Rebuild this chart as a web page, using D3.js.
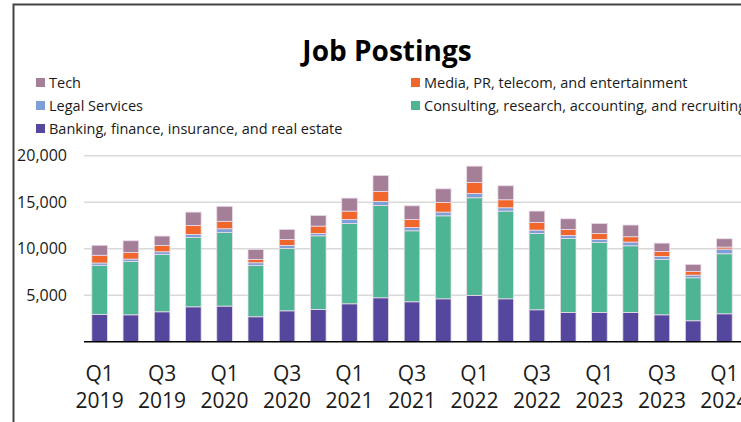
<!DOCTYPE html>
<html>
<head>
<meta charset="utf-8">
<script src="https://cdn.jsdelivr.net/npm/d3@7"></script>
<style>
    body { margin: 0; background: #fff; }
    text { font-family: "Open Sans", sans-serif; fill: #1a1a1a; }
</style>
</head>
<body>
<script>
(function() {

    // quarters, labelled every other one
    var quarters = ["Q1 2019", "Q2 2019", "Q3 2019", "Q4 2019", "Q1 2020", "Q2 2020", "Q3 2020", "Q4 2020",
        "Q1 2021", "Q2 2021", "Q3 2021", "Q4 2021", "Q1 2022", "Q2 2022", "Q3 2022", "Q4 2022",
        "Q1 2023", "Q2 2023", "Q3 2023", "Q4 2023", "Q1 2024"];

    var banking    = [2950, 2900, 3225, 3760, 3840, 2690, 3330, 3480, 4085, 4730, 4300, 4620, 4990, 4620, 3440, 3160, 3160, 3160, 2900, 2260, 3010];
    var consulting = [5270, 5740, 6170, 7460, 7920, 5525, 6710, 7910, 8640, 9930, 7630, 8920, 10490, 9430, 8210, 7955, 7525, 7160, 5955, 4620, 6450];
    var legal      = [250, 250, 280, 320, 390, 280, 320, 260, 430, 430, 365, 400, 470, 355, 355, 320, 320, 400, 320, 290, 505];
    var media      = [830, 720, 690, 970, 800, 365, 645, 785, 890, 1075, 860, 1040, 1180, 860, 830, 645, 645, 570, 540, 400, 215];
    var tech       = [1075, 1250, 1000, 1430, 1610, 1075, 1075, 1150, 1400, 1720, 1460, 1460, 1750, 1505, 1215, 1140, 1075, 1260, 890, 750, 895];

    var yTicks = [5000, 10000, 15000, 20000];

    // stacking order bottom -> top
    var seriesKeys = ["banking", "consulting", "legal", "media", "tech"];
    var seriesNames = {
        banking: "Banking, finance, insurance, and real estate",
        consulting: "Consulting, research, accounting, and recruiting",
        legal: "Legal Services",
        media: "Media, PR, telecom, and entertainment",
        tech: "Tech"
    };
    var seriesColors = {
        banking: "#56479e",
        consulting: "#4db593",
        legal: "#7d9ed6",
        media: "#f0662b",
        tech: "#a57e98"
    };
    // legend reads row by row, two columns
    var legendOrder = ["tech", "media", "legal", "consulting", "banking"];

    var width = 741,
        height = 422;

    var svg = d3.select("body")
        .append("svg")
        .attr("width", width)
        .attr("height", height);

    // outer frame, runs off the right and bottom edge
    svg.append("rect")
        .attr("x", 13.5)
        .attr("y", 4.5)
        .attr("width", 780)
        .attr("height", 440)
        .attr("fill", "#fff")
        .attr("stroke", "#444")
        .attr("stroke-width", 2);

    svg.append("text")
        .attr("x", 387)
        .attr("y", 61)
        .attr("text-anchor", "middle")
        .style("font-size", "28px")
        .style("font-weight", "bold")
        .style("fill", "#000")
        .text("Job Postings");

    var table = quarters.map(function(q, i) {
        return {quarter: q, banking: banking[i], consulting: consulting[i], legal: legal[i], media: media[i], tech: tech[i]};
    });

    var stack = d3.stack().keys(seriesKeys);
    var layers = stack(table);

    var x = d3.scaleBand()
        .domain(quarters)
        .range([84, 740])
        .paddingInner(0.5)
        .paddingOuter(0.25);

    var y = d3.scaleLinear()
        .domain([0, 20000])
        .range([341.8, 155.7]);

    setLegend();
    setAxes();
    setBars();

    function setLegend() {
        var cols = [35, 410];
        var items = svg.selectAll(".legendItem")
            .data(legendOrder)
            .enter()
            .append("g")
            .attr("class", "legendItem")
            .attr("transform", function(d, i) {
                return "translate(" + cols[i % 2] + "," + (83 + Math.floor(i / 2) * 23) + ")";
            });

        items.append("rect")
            .attr("x", 1)
            .attr("y", -5)
            .attr("width", 9)
            .attr("height", 9)
            .attr("fill", function(d) { return seriesColors[d]; });

        items.append("text")
            .attr("x", 14)
            .attr("dy", "0.35em")
            .style("font-size", "14.5px")
            .text(function(d) { return seriesNames[d]; });
    }

    function setAxes() {
        svg.selectAll(".grid")
            .data(yTicks)
            .enter()
            .append("line")
            .attr("class", "grid")
            .attr("x1", 84)
            .attr("x2", width)
            .attr("y1", function(d) { return y(d); })
            .attr("y2", function(d) { return y(d); })
            .attr("stroke", "#d9d9d9")
            .attr("stroke-width", 1.5);

        var yAxis = svg.append("g")
            .attr("transform", "translate(84,0)")
            .call(d3.axisLeft(y).tickValues(yTicks).tickSize(0).tickPadding(17).tickFormat(d3.format(",")));
        yAxis.select(".domain").remove();
        yAxis.selectAll("text")
            .style("font-size", "16px")
            .style("font-family", "'Open Sans', sans-serif")
            .attr("fill", "#1a1a1a");

        var xAxis = svg.append("g")
            .attr("transform", "translate(0," + y(0) + ")")
            .call(d3.axisBottom(x).tickSize(0).tickFormat(""));
        xAxis.select(".domain").remove();

        xAxis.selectAll(".tick")
            .filter(function(d, i) { return i % 2 == 0; })
            .each(function(d) {
                var parts = d.split(" ");
                var t = d3.select(this).append("text")
                    .attr("text-anchor", "middle")
                    .style("font-size", "21px")
                    .style("font-family", "'Open Sans', sans-serif")
                    .attr("fill", "#1a1a1a");
                t.append("tspan").attr("x", 0).attr("y", 39).text(parts[0]);
                t.append("tspan").attr("x", 0).attr("y", 66).text(parts[1]);
            });
    }

    function setBars() {
        svg.selectAll(".layer")
            .data(layers)
            .enter()
            .append("g")
            .attr("class", "layer")
            .attr("fill", function(d) { return seriesColors[d.key]; })
            .selectAll("rect")
            .data(function(d) { return d; })
            .enter()
            .append("rect")
            .attr("x", function(d) { return x(d.data.quarter); })
            .attr("width", x.bandwidth())
            .attr("y", function(d) { return y(d[1]); })
            .attr("height", function(d) { return y(d[0]) - y(d[1]); })
            .attr("stroke", "#eadcea")
            .attr("stroke-width", 0.8);

        svg.append("line")
            .attr("x1", 84)
            .attr("x2", width)
            .attr("y1", y(0))
            .attr("y2", y(0))
            .attr("stroke", "#000")
            .attr("stroke-width", 1.5);
    }

})();
</script>
</body>
</html>
